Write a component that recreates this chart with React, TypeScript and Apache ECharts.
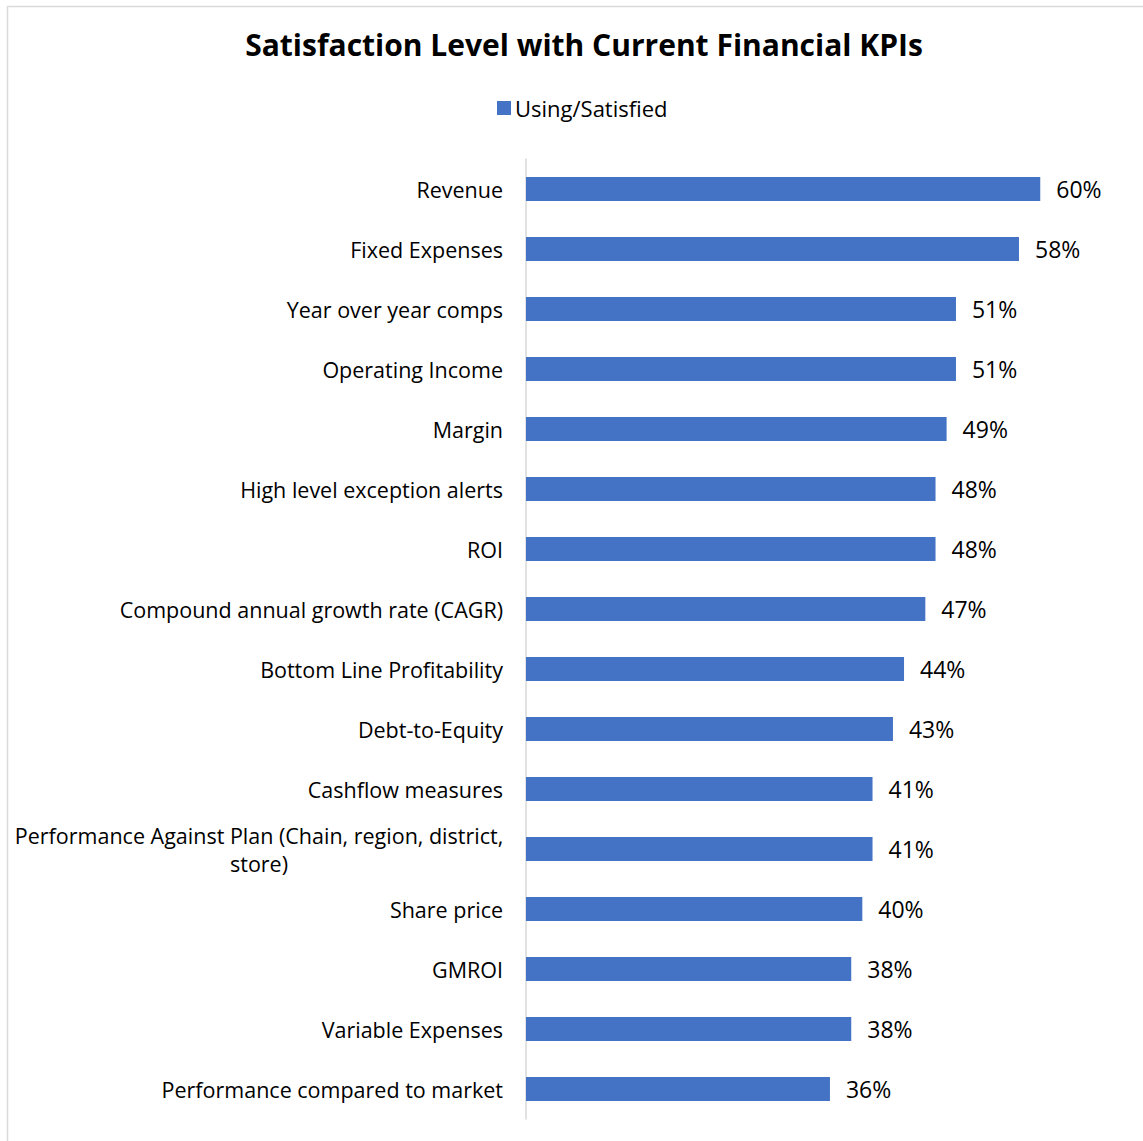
import React, { useEffect, useRef } from "react";
import * as echarts from "echarts";

const categories = [
  "Revenue",
  "Fixed Expenses",
  "Year over year comps",
  "Operating Income",
  "Margin",
  "High level exception alerts",
  "ROI",
  "Compound annual growth rate (CAGR)",
  "Bottom Line Profitability",
  "Debt-to-Equity",
  "Cashflow measures",
  "Performance Against Plan (Chain, region, district, store)",
  "Share price",
  "GMROI",
  "Variable Expenses",
  "Performance compared to market",
];

const usingSatisfied = [
  60.4, 57.9, 50.5, 50.5, 49.4, 48.1, 48.1, 46.9, 44.4, 43.1, 40.7, 40.7, 39.5, 38.2, 38.2, 35.7,
];

const seriesName = "Using/Satisfied";
const titleText = "Satisfaction Level with Current Financial KPIs";

const FONT = "'Open Sans', Lato, sans-serif";

export default function App() {
  const ref = useRef<HTMLDivElement>(null);
  useEffect(() => {
    if (!ref.current) return;
    const chart = echarts.init(ref.current, null, { renderer: "svg" });
    chart.setOption({
      animation: false,
      backgroundColor: "#ffffff",
      textStyle: { fontFamily: FONT },
      title: {
        text: titleText,
        left: 579,
        top: 24,
        textAlign: "center",
        textStyle: { fontFamily: FONT, fontWeight: "bold", fontSize: 30, color: "#000000" },
      },
      legend: {
        data: [seriesName],
        left: 492,
        top: 92,
        icon: "rect",
        itemWidth: 14,
        itemHeight: 14,
        itemGap: 6,
        textStyle: { fontFamily: FONT, fontSize: 22, color: "#000000", padding: [0, 0, 0, -1] },
      },
      graphic: [
        {
          type: "rect",
          shape: { x: 7.5, y: 6.5, width: 1300, height: 1300 },
          style: { fill: "none", stroke: "#d9d9d9", lineWidth: 1.5 },
          silent: true,
          z: -1,
        },
      ],
      grid: { left: 526, top: 159, right: 21, bottom: 22, containLabel: false },
      xAxis: {
        type: "value",
        min: 0,
        max: 70,
        show: false,
        splitLine: { show: false },
      },
      yAxis: {
        type: "category",
        inverse: true,
        data: categories,
        axisLine: { show: true, lineStyle: { color: "#d9d9d9", width: 1.5 } },
        axisTick: { show: false },
        axisLabel: {
          margin: 23,
          fontFamily: FONT,
          fontSize: 21.5,
          color: "#000000",
          interval: 0,
          formatter: (v: string) => {
            if (v.startsWith("Performance Against Plan")) {
              return "{c|Performance Against Plan (Chain, region, district,}\n{c|store)}";
            }
            return v;
          },
          rich: {
            c: {
              fontFamily: FONT,
              fontSize: 21.5,
              color: "#000000",
              width: 488,
              align: "center",
              lineHeight: 28,
            },
          },
        },
      },
      series: [
        {
          name: seriesName,
          type: "bar",
          data: usingSatisfied,
          barWidth: 24,
          itemStyle: { color: "#4472C4" },
          label: {
            show: true,
            position: "right",
            distance: 16,
            fontFamily: FONT,
            fontSize: 23,
            color: "#000000",
            formatter: (p: any) => Math.round(p.value) + "%",
          },
        },
      ],
    });
    return () => chart.dispose();
  }, []);
  return (
    <div
      ref={ref}
      style={{ position: "fixed", left: 0, top: 0, width: 1143, height: 1141, background: "#fff" }}
    />
  );
}
